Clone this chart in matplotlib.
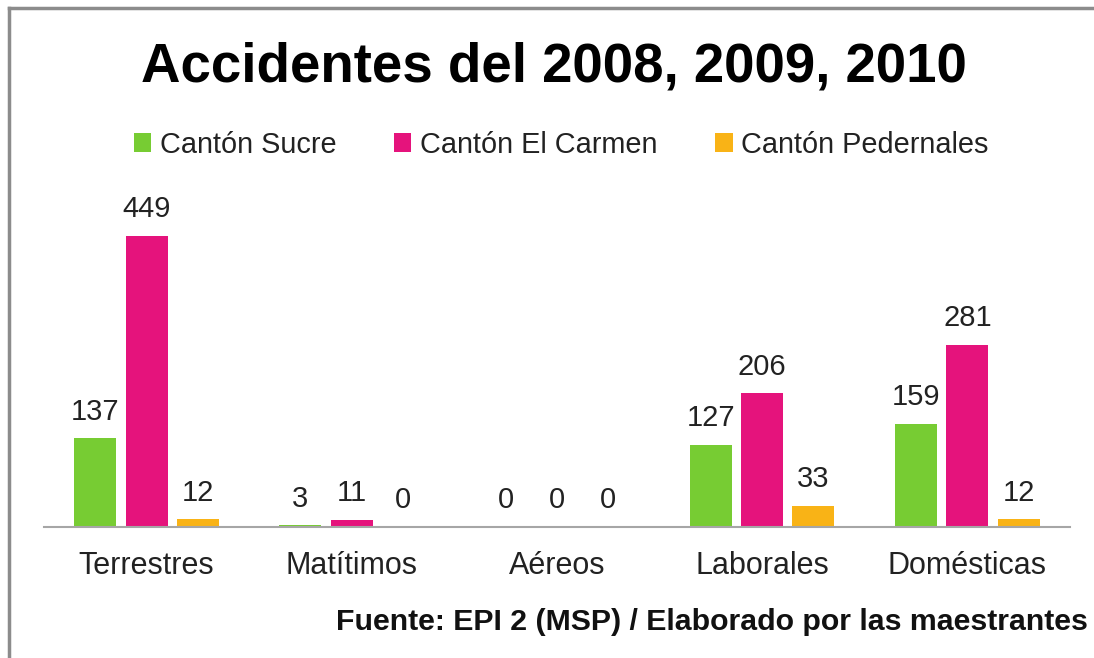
import numpy as np
import matplotlib
matplotlib.use("Agg")
import matplotlib.pyplot as plt
from matplotlib.lines import Line2D

plt.rcParams['font.family'] = ['Liberation Sans', 'DejaVu Sans']

categories = ["Terrestres", "Matítimos", "Aéreos", "Laborales", "Domésticas"]
series_names = ["Cantón Sucre", "Cantón El Carmen", "Cantón Pedernales"]
sucre = [137, 3, 0, 127, 159]
el_carmen = [449, 11, 0, 206, 281]
pedernales = [12, 0, 0, 33, 12]
colors = ["#77cc33", "#e5137c", "#f9b316"]

fig = plt.figure(figsize=(10.94, 6.58), dpi=100)
ax = fig.add_axes([0.0402, 0.1991, 0.9378, 0.5274])

x = np.arange(len(categories))
width = 0.205
offsets = [-0.25, 0.0, 0.25]
for vals, off, col, name in zip([sucre, el_carmen, pedernales], offsets, colors, series_names):
    bars = ax.bar(x + off, vals, width, color=col, label=name)
    for b, v in zip(bars, vals):
        ax.annotate(str(v), (b.get_x() + b.get_width() / 2, v),
                    xytext=(0, 9), textcoords="offset points",
                    ha="center", va="bottom", fontsize=21, color="#222222")

ax.set_xlim(-0.5, 4.5)
ax.set_ylim(0, 535)
ax.set_xticks(x)
ax.set_xticklabels(categories, fontsize=22, color="#222222")
ax.tick_params(axis="x", length=0, pad=17)
ax.set_yticks([])
for s in ["top", "right", "left"]:
    ax.spines[s].set_visible(False)
ax.spines["bottom"].set_color("#a6a6a6")
ax.spines["bottom"].set_linewidth(1.5)

fig.text(0.506, 0.897, "Accidentes del 2008, 2009, 2010", ha="center", va="center",
         fontsize=39.3, fontweight="bold", color="black")

fig.legend(loc="center", bbox_to_anchor=(0.513, 0.78), ncol=3, frameon=False,
           fontsize=20.8, handlelength=0.6, handleheight=0.6, handletextpad=0.3,
           columnspacing=2.0, labelcolor="#222222")

fig.text(0.994, 0.055, "Fuente: EPI 2 (MSP) / Elaborado por las maestrantes", ha="right",
         va="center", fontsize=21.8, fontweight="bold", color="#111111")

# frame lines (top and left edges visible)
fig.add_artist(Line2D([0.008, 1.0], [0.988, 0.988], color="#8c8c8c", lw=2.5))
fig.add_artist(Line2D([0.0085, 0.0085], [0.0, 0.988], color="#8c8c8c", lw=2.5))

fig.savefig("out.png", dpi=100, facecolor="white")
